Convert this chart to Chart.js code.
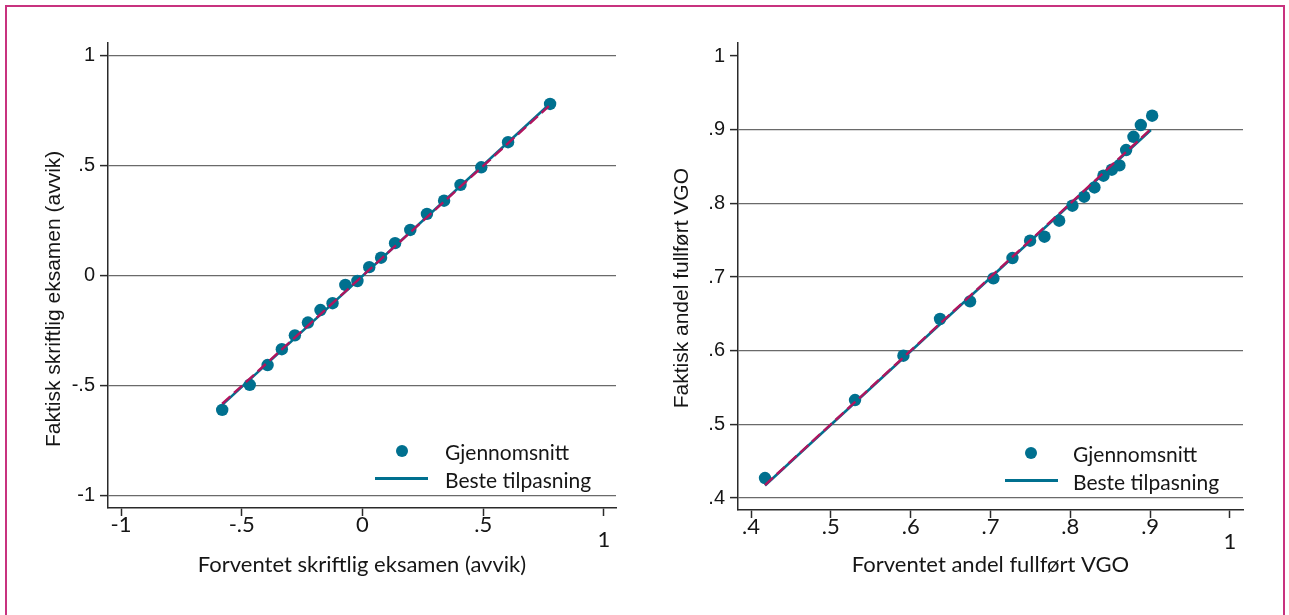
<!DOCTYPE html>
<html>
<head>
<meta charset="utf-8">
<script src="https://cdn.jsdelivr.net/npm/chart.js@4.4.0/dist/chart.umd.min.js"></script>
<style>
  html, body { margin: 0; padding: 0; background: #fff; width: 1289px; height: 615px; overflow: hidden; }
  #frame { position: absolute; left: 5px; top: 5px; width: 1280px; height: 640px; border: 2px solid #c8327f; box-sizing: border-box; }
  .pane { position: absolute; top: 0; height: 615px; }
  #paneL { left: 0; width: 640px; }
  #paneR { left: 640px; width: 649px; }
  .legend { position: absolute; font-family: Lato, "Noto Sans", sans-serif; font-size: 21px; color: #161616; line-height: 1; }
  .legend .dot { position: absolute; width: 12px; height: 12px; border-radius: 50%; background: #00708f; }
  .legend .bar { position: absolute; height: 3px; background: #00708f; }
  .legend .txt { position: absolute; white-space: nowrap; transform: translateY(-50%); }
</style>
</head>
<body>
<div id="frame"></div>
<div class="pane" id="paneL"><canvas id="chartL" width="640" height="615"></canvas></div>
<div class="pane" id="paneR"><canvas id="chartR" width="649" height="615"></canvas></div>

<div class="legend" id="legL" style="left:0;top:0;">
  <div class="dot" style="left:396px;top:445px;"></div>
  <div class="txt" style="left:445px;top:451px;">Gjennomsnitt</div>
  <div class="bar" style="left:375px;top:477px;width:53px;"></div>
  <div class="txt" style="left:445px;top:479px;">Beste tilpasning</div>
</div>
<div class="legend" id="legR" style="left:0;top:0;">
  <div class="dot" style="left:1025px;top:447px;"></div>
  <div class="txt" style="left:1073px;top:453px;">Gjennomsnitt</div>
  <div class="bar" style="left:1005px;top:479px;width:53px;"></div>
  <div class="txt" style="left:1073px;top:481px;">Beste tilpasning</div>
</div>

<script>
// Written exam: expected vs. actual deviation, one point per group mean
const leftX = [-0.581, -0.467, -0.393, -0.334, -0.280, -0.226, -0.174, -0.124, -0.071, -0.021,
               0.028, 0.077, 0.135, 0.198, 0.267, 0.338, 0.406, 0.492, 0.603, 0.777];
const leftY = [-0.609, -0.495, -0.405, -0.333, -0.270, -0.212, -0.155, -0.124, -0.041, -0.023,
               0.040, 0.083, 0.149, 0.209, 0.282, 0.342, 0.414, 0.494, 0.608, 0.782];
const leftFitX = [-0.581, 0.772];
const leftFitY = [-0.586, 0.778];
const leftDiag = [-0.581, 0.772];
const leftXTicks = [-1, -0.5, 0, 0.5, 1];
const leftYTicks = [-1, -0.5, 0, 0.5, 1];

// Share completing upper secondary (VGO): expected vs. actual
const rightX = [0.4175, 0.5303, 0.5909, 0.6368, 0.6744, 0.7036, 0.7275, 0.7496, 0.7676, 0.7860,
                0.8026, 0.8173, 0.8302, 0.8415, 0.8520, 0.8615, 0.8699, 0.8791, 0.8883, 0.9025];
const rightY = [0.4271, 0.5330, 0.5932, 0.6430, 0.6669, 0.6981, 0.7258, 0.7493, 0.7547, 0.7764,
                0.7968, 0.8090, 0.8216, 0.8375, 0.8457, 0.8515, 0.8724, 0.8904, 0.9063, 0.9190];
const rightFitX = [0.4175, 0.9009];
const rightFitY = [0.4170, 0.8996];
const rightDiag = [0.4175, 0.9009];
const rightXTicks = [0.4, 0.5, 0.6, 0.7, 0.8, 0.9, 1];
const rightYTicks = [0.4, 0.5, 0.6, 0.7, 0.8, 0.9, 1];

const TEAL = '#00708f';
const MAGENTA = '#b0155e';
const GRID = '#6a6a6a';
const AXIS = '#2a2a2a';
const INK = '#161616';
const SANS_X = 'Lato, "Noto Sans", sans-serif';
const SANS_Y = '"Liberation Sans", Arial, sans-serif';

function pairs(xs, ys) { return xs.map((x, i) => ({ x: x, y: ys[i] })); }

// Stata-style numbers: drop the leading zero, keep "0" and "1"
function fmt(v) {
  const r = Math.round(v * 1000) / 1000;
  if (r === 0) return '0';
  let s = String(Math.abs(r));
  if (s.startsWith('0.')) s = s.slice(1);
  return (r < 0 ? '-' : '') + s;
}

function build(canvasId, cfg) {
  const ctx = document.getElementById(canvasId).getContext('2d');
  return new Chart(ctx, {
    type: 'scatter',
    data: {
      datasets: [
        {
          label: 'Gjennomsnitt',
          data: pairs(cfg.px, cfg.py),
          backgroundColor: TEAL, borderColor: TEAL,
          pointRadius: 6.2, pointHoverRadius: 6.2, borderWidth: 0,
          order: 3
        },
        {
          label: 'Beste tilpasning',
          data: pairs(cfg.fx, cfg.fy),
          showLine: true, borderColor: TEAL, borderWidth: 2.6,
          pointRadius: 0, fill: false, order: 2
        },
        {
          label: '45°',
          data: pairs(cfg.dx, cfg.dx),
          showLine: true, borderColor: MAGENTA, borderWidth: 2.4,
          borderDash: [11, 5], pointRadius: 0, fill: false, order: 1
        }
      ]
    },
    options: {
      responsive: false,
      animation: false,
      devicePixelRatio: 1,
      layout: { padding: { left: 0, top: 43, right: cfg.padRight, bottom: 0 } },
      plugins: { legend: { display: false }, tooltip: { enabled: false } },
      scales: {
        x: {
          type: 'linear', min: cfg.xmin, max: cfg.xmax,
          afterBuildTicks: s => { s.ticks = cfg.xticks.map(v => ({ value: v })); },
          afterFit: s => { s.height = cfg.xAxisH; },
          border: { display: true, color: AXIS, width: 1.5 },
          grid: { display: true, drawOnChartArea: false, drawTicks: true, tickLength: 8, tickColor: AXIS, tickWidth: 1.5 },
          ticks: {
            color: INK, padding: 1.5, maxRotation: 0, autoSkip: false,
            font: { family: SANS_X, size: 22, lineHeight: '15px' },
            callback: v => (v === 1 ? ['', '1'] : fmt(v))
          },
          title: {
            display: true, text: cfg.xTitle, color: INK,
            font: { family: SANS_X, size: 22, lineHeight: 1.2 },
            padding: { top: 0, bottom: 37 }
          }
        },
        y: {
          type: 'linear', min: cfg.ymin, max: cfg.ymax,
          afterBuildTicks: s => { s.ticks = cfg.yticks.map(v => ({ value: v })); },
          afterFit: s => { s.width = cfg.yAxisW; },
          border: { display: true, color: AXIS, width: 1.5 },
          grid: {
            display: true, drawOnChartArea: true, drawTicks: true, tickLength: 8,
            color: c => (c.tick && cfg.noGridAt.includes(c.tick.value) ? 'rgba(0,0,0,0)' : GRID),
            lineWidth: 1.2, tickColor: AXIS, tickWidth: 1.5
          },
          ticks: {
            color: INK, padding: 5, autoSkip: false,
            font: { family: SANS_Y, size: 20 },
            callback: v => fmt(v)
          },
          title: {
            display: true, text: cfg.yTitle, color: INK,
            font: { family: SANS_Y, size: 21, lineHeight: 1.2 },
            padding: { top: cfg.yTitlePad, bottom: 0 }
          }
        }
      }
    }
  });
}

build('chartL', {
  px: leftX, py: leftY, fx: leftFitX, fy: leftFitY, dx: leftDiag,
  xticks: leftXTicks, yticks: leftYTicks,
  xmin: -1.054, xmax: 1.050, ymin: -1.055, ymax: 1.059,
  padRight: 24, xAxisH: 107, yAxisW: 108, yTitlePad: 42, noGridAt: [],
  xTitle: 'Forventet skriftlig eksamen (avvik)',
  yTitle: 'Faktisk skriftlig eksamen (avvik)        '
});

build('chartR', {
  px: rightX, py: rightY, fx: rightFitX, fy: rightFitY, dx: rightDiag,
  xticks: rightXTicks, yticks: rightYTicks,
  xmin: 0.3837, xmax: 1.0163, ymin: 0.3837, ymax: 1.0177,
  padRight: 46, xAxisH: 105, yAxisW: 98, yTitlePad: 30, noGridAt: [1],
  xTitle: 'Forventet andel fullført VGO',
  yTitle: 'Faktisk andel fullført VGO    '
});
</script>
</body>
</html>
